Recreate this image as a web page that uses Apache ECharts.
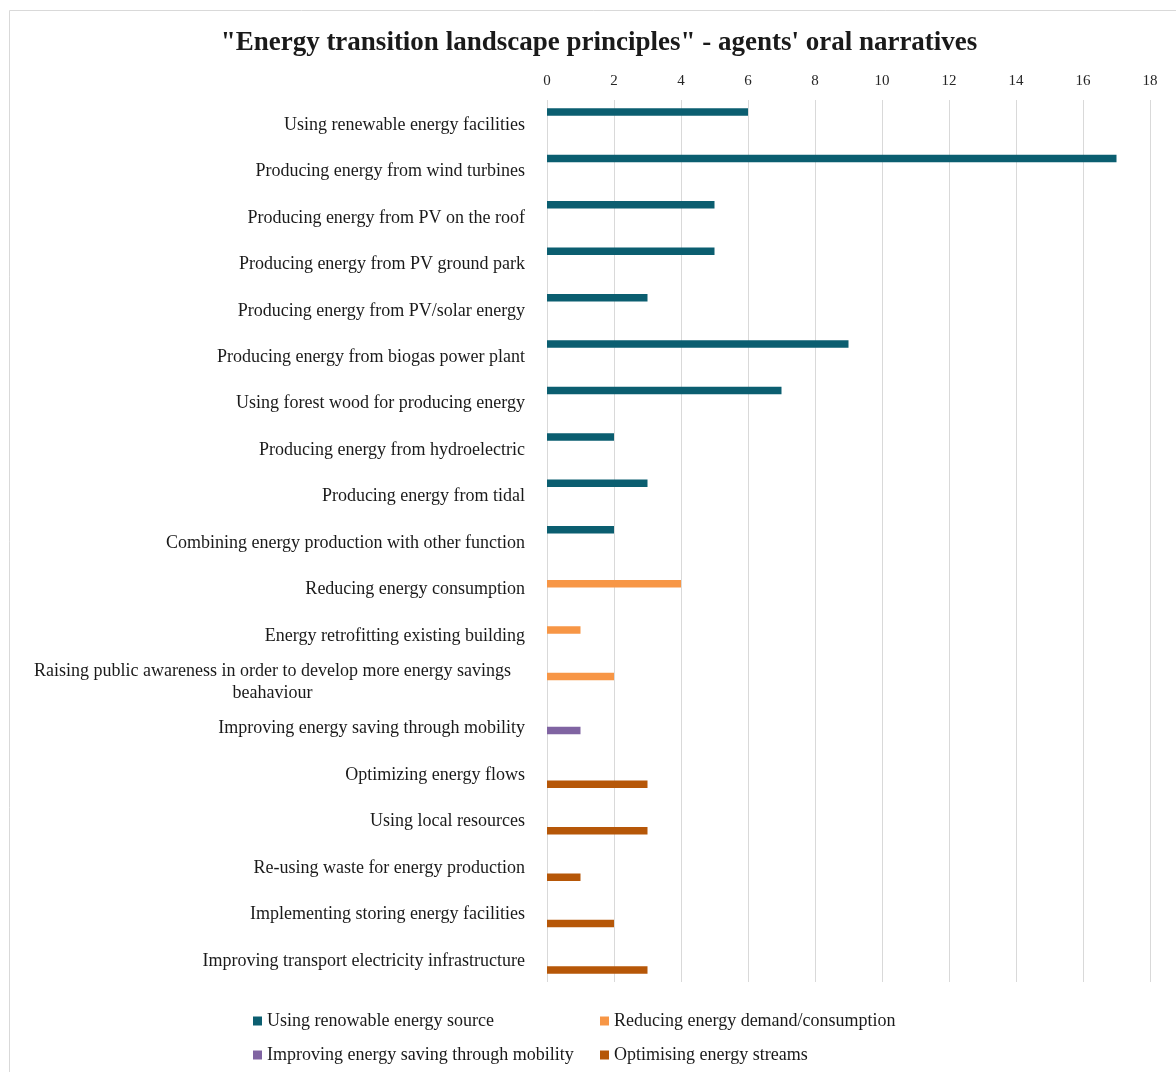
<!DOCTYPE html>
<html><head><meta charset="utf-8">
<script src="https://cdn.jsdelivr.net/npm/echarts@6/dist/echarts.min.js"></script>
<style>html,body{margin:0;padding:0;background:#fff}#c{width:1176px;height:1072px}</style>
</head><body><div id="c"></div>
<script>
const categories = [
  "Using renewable energy facilities",
  "Producing energy from wind turbines",
  "Producing energy from PV on the roof",
  "Producing energy from PV ground park",
  "Producing energy from PV/solar energy",
  "Producing energy from biogas power plant",
  "Using forest wood for producing energy",
  "Producing energy from hydroelectric",
  "Producing energy from tidal",
  "Combining energy production with other function",
  "Reducing energy consumption",
  "Energy retrofitting existing building",
  "Raising public awareness in order to develop more energy savings\nbeahaviour",
  "Improving energy saving through mobility",
  "Optimizing energy flows",
  "Using local resources",
  "Re-using waste for energy production",
  "Implementing storing energy facilities",
  "Improving transport electricity infrastructure"
];
const seriesNames = [
  "Using renowable energy source",
  "Reducing energy demand/consumption",
  "Improving energy saving through mobility",
  "Optimising energy streams"
];
const renewable = [6,17,5,5,3,9,7,2,3,2,null,null,null,null,null,null,null,null,null];
const reducing  = [null,null,null,null,null,null,null,null,null,null,4,1,2,null,null,null,null,null,null];
const mobility  = [null,null,null,null,null,null,null,null,null,null,null,null,null,1,null,null,null,null,null];
const streams   = [null,null,null,null,null,null,null,null,null,null,null,null,null,null,3,3,1,2,3];
const xTicks = {min:0, max:18, interval:2};

const colors = ['#0b5e70','#f79646','#8064a2','#b65708'];
const FONT = '"Liberation Serif", "DejaVu Serif", serif';
const chart = echarts.init(document.getElementById('c'));
const values = [renewable, reducing, mobility, streams];
const legendText = {fontFamily:FONT,fontSize:18,color:'#1a1a1a',lineHeight:20};
chart.setOption({
  animation:false,
  textStyle:{fontFamily:FONT},
  graphic:[{type:'rect', shape:{x:9.5,y:10.5,width:1200,height:1100}, style:{fill:'none',stroke:'#d9d9d9',lineWidth:1}, silent:true}],
  title:{text:'"Energy transition landscape principles" - agents\' oral narratives', left:594, textAlign:'center', top:25,
    textStyle:{fontFamily:FONT,fontSize:27,fontWeight:'bold',color:'#1a1a1a'}},
  grid:{left:547,right:26,top:100,bottom:90,containLabel:false},
  xAxis:{type:'value', position:'top', min:xTicks.min, max:xTicks.max, interval:xTicks.interval,
    axisLine:{show:false}, axisTick:{show:false},
    axisLabel:{fontFamily:FONT,fontSize:15,color:'#262626',margin:11},
    splitLine:{show:true,lineStyle:{color:'#d9d9d9',width:1}}},
  yAxis:{type:'category', inverse:true, data:categories,
    axisLine:{show:false}, axisTick:{show:false},
    axisLabel:{fontFamily:FONT,fontSize:18,color:'#1a1a1a',margin:22,padding:[4,0,0,0],
      formatter:function(v){
        if(v.indexOf('\n')>=0){ const p=v.split('\n'); return '{c|'+p[0]+'}\n{c|'+p[1]+'}'; }
        return v;
      },
      rich:{c:{fontFamily:FONT,fontSize:18,color:'#1a1a1a',width:505,align:'center',lineHeight:22}}}},
  legend:[
    {data:[seriesNames[0],seriesNames[2]], orient:'vertical', left:253, top:1011, height:60, padding:0, itemWidth:9, itemHeight:9, itemGap:14, icon:'rect',
      textStyle:legendText},
    {data:[seriesNames[1],seriesNames[3]], orient:'vertical', left:600, top:1011, height:60, padding:0, itemWidth:9, itemHeight:9, itemGap:14, icon:'rect',
      textStyle:legendText}
  ],
  series: seriesNames.map((n,i)=>({name:n, type:'bar', data:values[i], barWidth:7.5, barGap:'0%',
    itemStyle:{color:colors[i]}}))
});
</script></body></html>
